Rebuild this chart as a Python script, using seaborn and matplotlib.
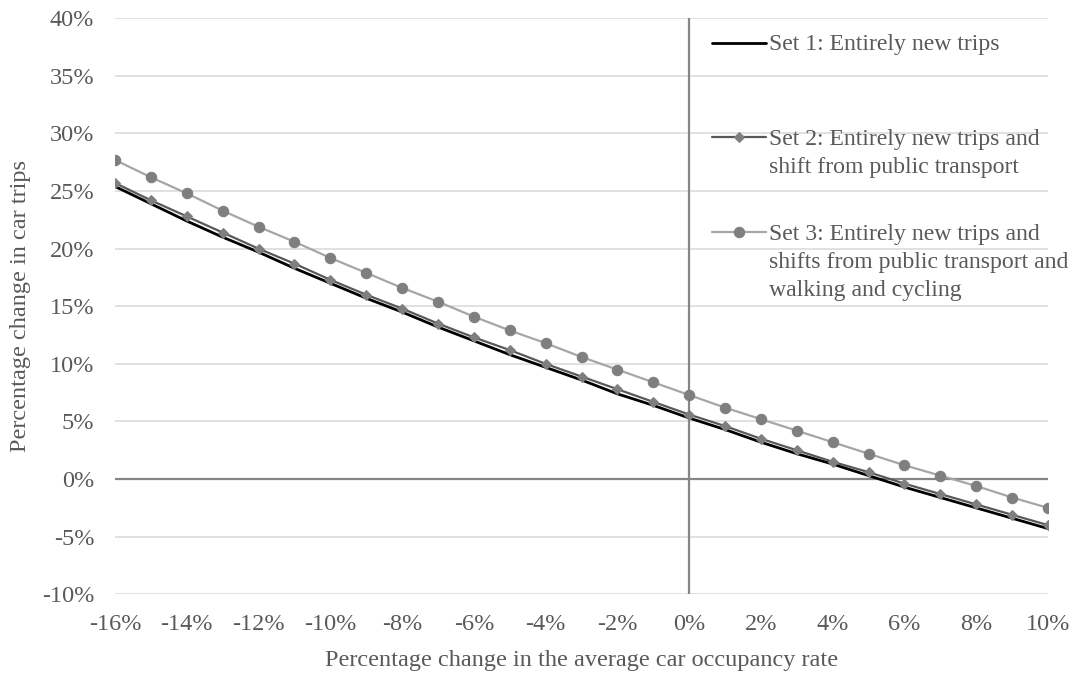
import matplotlib
matplotlib.use("Agg")
import matplotlib.pyplot as plt
import seaborn as sns
import pandas as pd

# percentage change in average car occupancy (x) and in car trips (y), in %
occupancy = [-16, -15, -14, -13, -12, -11, -10, -9, -8, -7, -6, -5, -4, -3,
             -2, -1, 0, 1, 2, 3, 4, 5, 6, 7, 8, 9, 10]
set1 = [25.4, 23.9, 22.4, 21.0, 19.7, 18.3, 17.0, 15.7, 14.5, 13.2, 12.0, 10.8,
        9.7, 8.6, 7.4, 6.4, 5.3, 4.3, 3.2, 2.2, 1.3, 0.3, -0.7, -1.6, -2.5,
        -3.4, -4.3]
set2 = [25.7, 24.2, 22.8, 21.4, 20.0, 18.7, 17.3, 16.0, 14.8, 13.5, 12.3, 11.2,
        10.0, 8.9, 7.8, 6.7, 5.6, 4.6, 3.5, 2.5, 1.5, 0.6, -0.4, -1.3, -2.2,
        -3.1, -4.0]
set3 = [27.7, 26.2, 24.8, 23.3, 21.9, 20.6, 19.2, 17.9, 16.6, 15.4, 14.1, 12.9,
        11.8, 10.6, 9.5, 8.4, 7.3, 6.2, 5.2, 4.2, 3.2, 2.2, 1.2, 0.3, -0.6,
        -1.6, -2.5]
labels = ["Set 1: Entirely new trips",
          "Set 2: Entirely new trips and\nshift from public transport",
          "Set 3: Entirely new trips and\nshifts from public transport and\nwalking and cycling"]
x_ticks = list(range(-16, 11, 2))
y_ticks = list(range(-10, 41, 5))

df = pd.DataFrame({"x": occupancy, "s1": set1, "s2": set2, "s3": set3})

sns.set_style("white")
plt.rcParams['font.family'] = ['Liberation Serif', 'DejaVu Serif']
txt = '#595959'
fs = 17.5

fig = plt.figure(figsize=(10.77, 6.77), dpi=100)
ax = fig.add_axes([0.1068, 0.1222, 0.8663, 0.8508])

# gridlines and the two zero axes
for v in y_ticks:
    ax.axhline(v, color='#D9D9D9', lw=1.1, zorder=0)
ax.axhline(0, color='#868686', lw=1.6, zorder=1)
ax.axvline(0, color='#868686', lw=1.6, zorder=1)

sns.lineplot(data=df, x="x", y="s3", ax=ax, color='#A6A6A6', lw=1.6,
             marker='o', markersize=7.5, markerfacecolor='#7F7F7F',
             markeredgecolor='#7F7F7F', label=labels[2], zorder=3)
sns.lineplot(data=df, x="x", y="s2", ax=ax, color='#595959', lw=1.6,
             marker='D', markersize=5.5, markerfacecolor='#7F7F7F',
             markeredgecolor='#7F7F7F', label=labels[1], zorder=3)
sns.lineplot(data=df, x="x", y="s1", ax=ax, color='black', lw=2.0,
             label=labels[0], zorder=2)

ax.set_xlim(-16, 10)
ax.set_ylim(-10, 40)
ax.set_xticks(x_ticks)
ax.set_xticklabels([f"{t}%" for t in x_ticks])
ax.set_yticks(y_ticks)
ax.set_yticklabels([f"{t}%" for t in y_ticks])
ax.tick_params(axis='x', length=0, pad=14, labelsize=fs, labelcolor=txt)
ax.tick_params(axis='y', length=0, pad=15, labelsize=fs, labelcolor=txt)
for s in ax.spines.values():
    s.set_visible(False)

ax.set_xlabel("Percentage change in the average car occupancy rate",
              fontsize=fs, color=txt, labelpad=11)
ax.set_ylabel("Percentage change in car trips", fontsize=fs, color=txt,
              labelpad=8)

# legend: pad every label to three lines so entries are evenly spaced
handles, _ = ax.get_legend_handles_labels()
handles = handles[::-1]
padded = [lab + "\n" * (2 - lab.count("\n")) for lab in labels]
leg = ax.legend(handles, padded, loc='upper left', bbox_to_anchor=(0.6243, 0.997),
                frameon=False, fontsize=17.1, labelcolor=txt, handlelength=2.3,
                handletextpad=0.12, labelspacing=0.76, borderaxespad=0.2)
for t in leg.get_texts():
    t.set_linespacing(1.43)
for row in leg._legend_handle_box.get_children()[0].get_children():
    row.align = 'top'

fig.savefig("out.png", dpi=100)
